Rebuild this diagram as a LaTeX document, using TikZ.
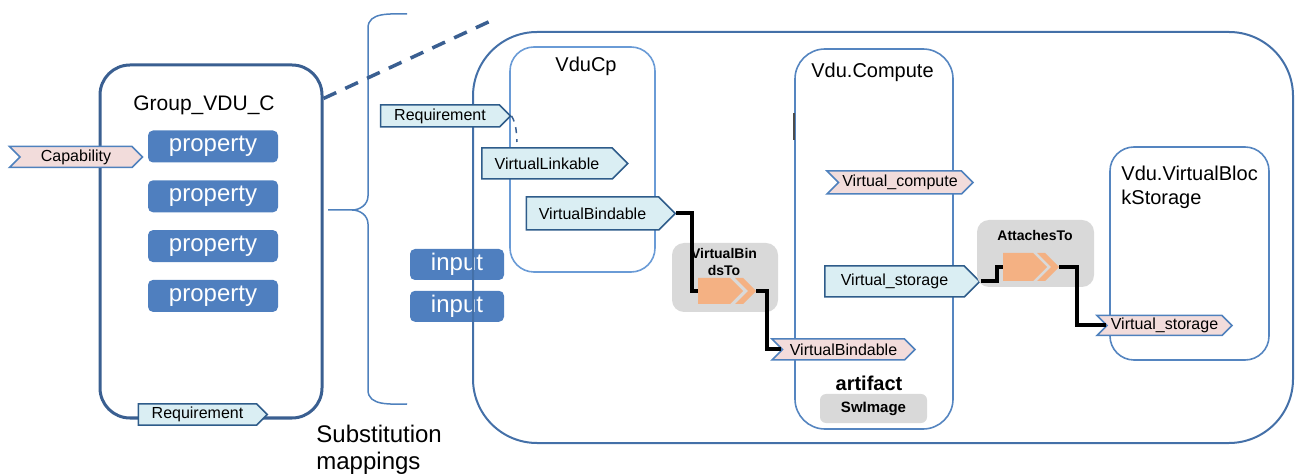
\documentclass[tikz,border=0pt]{standalone}
\usepackage{fontspec}
\setmainfont{Liberation Sans}
\usetikzlibrary{positioning,shapes.symbols}

\definecolor{grpblue}{HTML}{3A5F91}
\definecolor{outblue}{HTML}{4470A8}
\definecolor{cpblue}{HTML}{6A9BD6}
\definecolor{vdcblue}{HTML}{5585C0}
\definecolor{propblue}{HTML}{4F7FBF}
\definecolor{reqfill}{HTML}{DAEEF3}
\definecolor{reqline}{HTML}{2E5C8A}
\definecolor{capfill}{HTML}{F2DCDB}
\definecolor{capline}{HTML}{4F81BD}
\definecolor{relgray}{HTML}{D9D9D9}
\definecolor{relorange}{HTML}{F4B183}

\tikzset{
  reqtag/.style={signal, signal to=east, signal pointer angle=90, draw=reqline,
    line width=0.75pt, fill=reqfill, inner sep=0pt, font=\fontsize{8}{9}\selectfont},
  captag/.style={reqtag, signal from=west, draw=capline, fill=capfill},
  prop/.style={rounded corners=2.5pt, fill=propblue, text=white, minimum width=65pt,
    minimum height=16pt, inner sep=0pt, font=\fontsize{12}{12}\selectfont},
  tmpl/.style={draw=vdcblue, line width=0.8pt},
  title/.style={font=\fontsize{10}{12}\selectfont},
  relbox/.style={fill=relgray, rounded corners=6pt, inner sep=0pt},
  reltext/.style={font=\bfseries\fontsize{7}{8.5}\selectfont, align=center},
  wire/.style={line width=2pt, black},
}

\begin{document}
\begin{tikzpicture}[x=0.5pt, y=-0.5pt]
  \useasboundingbox (0,0) rectangle (1295,475);

  % Group on the left
  \node[draw=grpblue, line width=1.5pt, rounded corners=15pt, minimum width=111pt,
    minimum height=176.5pt] (grp) at (211,241.5) {};
  \node[font=\fontsize{10.5}{12}\selectfont] (grpname) at (204,105) {Group\_VDU\_C};
  \node[prop] (p1) at (213,146.5) {property};
  \node[prop, below=8.5pt of p1] (p2) {property};
  \node[prop, below=8.5pt of p2] (p3) {property};
  \node[prop, below=8.5pt of p3] (p4) {property};
  \node[captag, minimum width=66.5pt, minimum height=10.5pt] (cap) at (76,157) {Capability};
  \node[reqtag, minimum width=64.5pt, minimum height=10.5pt] (grpreq) at (197.5,414.5) {Requirement};

  %Brace and mapping line
  \draw[capline, line width=0.75pt] (407,14) to[out=180,in=90] (368,28) -- (368,196)
    to[out=-90,in=0] (352,210) -- (328,210);
  \draw[capline, line width=0.75pt] (352,210) to[out=0,in=90] (368,224) -- (368,390)
    to[out=-90,in=180] (407,404);
  \coordinate (dashend) at (497,18);
  \draw[grpblue, line width=1.75pt, dash pattern=on 7pt off 5pt]
    ([yshift=-17.5pt]grp.north east) -- (dashend);
  \node[anchor=north west, inner sep=0pt, align=left, font=\fontsize{12}{13.5}\selectfont]
    (subst) at (316,425) {Substitution\\mappings};

  % Inputs
  \node[prop, minimum width=47pt, minimum height=15.5pt] (in1) at (457,264.5) {input};
  \node[prop, minimum width=47pt, minimum height=15.5pt, below=5pt of in1] (in2) {input};

  % Template frame
  \node[draw=outblue, line width=1pt, rounded corners=32pt, minimum width=410pt,
    minimum height=205.5pt] (tpl) at (883,237.5) {};

  % Node templates
  \node[tmpl, draw=cpblue, rounded corners=12pt, minimum width=72.5pt,
    minimum height=112.5pt] (vducp) at (582.5,159.5) {};
  \node[title] (vducpname) at (586,66) {VduCp};
  \node[tmpl, rounded corners=15pt, minimum width=79pt, minimum height=190pt]
    (vdc) at (874,239) {};
  \node[title] (vdcname) at (872.5,72) {Vdu.Compute};
  \draw[black!70, line width=1pt] ([yshift=63pt]vdc.west) -- ([yshift=49.5pt]vdc.west);
  \node[tmpl, rounded corners=12pt, minimum width=79.5pt, minimum height=106.5pt]
    (vbs) at (1189.5,253.5) {};
  \node[title, anchor=north west, inner sep=0pt, align=left] (vbsname) at (1121,166)
    {Vdu.VirtualBloc\\kStorage};

  %Requirements and capabilities
  \node[reqtag, minimum width=65pt, minimum height=11pt] (reqs) at (440,116) {Requirement};
  \coordinate (cpend) at (517,142);
  \draw[grpblue, line width=0.75pt, dashed] (reqs.east) to[out=-60,in=95] (cpend);
  \node[reqtag, minimum width=73pt, minimum height=15.5pt] (vlink) at (547,163.5) {VirtualLinkable};
  \node[reqtag, minimum width=74.5pt, minimum height=16.5pt] (vbind) at (592.5,213.5) {VirtualBindable};
  \node[captag, minimum width=73pt, minimum height=11.5pt] (vcomp) at (900,182.5) {Virtual\_compute};
  \node[reqtag, minimum width=77.5pt, minimum height=15.5pt] (vstor) at (894.5,281.5) {Virtual\_storage};
  \node[captag, minimum width=71.5pt, minimum height=10.5pt] (vbind2) at (843.5,349.5) {VirtualBindable};
  \node[captag, minimum width=67.5pt, minimum height=10pt] (vstor2) at (1164.5,325.5) {Virtual\_storage};

  % Artifact
  \node[font=\bfseries\fontsize{10}{12}\selectfont] (art) at (869,383) {artifact};
  \node[relbox, rounded corners=3pt, minimum width=53.5pt, minimum height=14.5pt,
    font=\bfseries\fontsize{7.5}{9}\selectfont] (swimg) at (873.5,408.5) {SwImage};

  %Relationships
  \node[relbox, minimum width=53pt, minimum height=34.5pt] (binds) at (725,277.5) {};
  \node[reltext] (bindsname) at (724,261.5) {VirtualBin\\dsTo};
  \coordinate (bindarrow) at (698,291);
  \coordinate (bindchev) at (756,291);
  \fill[relorange] (bindarrow) ++(0,-13) -- ++(32,0) -- ++(13,13) -- ++(-13,13)
    -- ++(-32,0) -- cycle;
  \fill[relorange] (bindchev) -- ++(-13,-13) -- ++(-8,0) -- ++(13,13) -- ++(-13,13)
    -- ++(8,0) -- cycle;
  \node[relbox, minimum width=58.5pt, minimum height=33.5pt] (att) at (1035.5,253.5) {};
  \node[reltext] (attname) at (1035,235) {AttachesTo};
  \coordinate (attarrow) at (1003,267);
  \coordinate (attchev) at (1059,267);
  \fill[relorange] (attarrow) ++(0,-14) -- ++(30,0) -- ++(14,14) -- ++(-14,14)
    -- ++(-30,0) -- cycle;
  \fill[relorange] (attchev) -- ++(-14,-14) -- ++(-8,0) -- ++(14,14) -- ++(-14,14)
    -- ++(8,0) -- cycle;

  \draw[wire] (vbind.east) -- ++(16,0) |- (bindarrow);
  \draw[wire] (bindchev) -- ++(11,0) |- (vbind2.west);
  \draw[wire] (vstor.east) -- ++(16,0) |- (attarrow);
  \draw[wire] (attchev) -- ++(18,0) |- (vstor2.west);
\end{tikzpicture}
\end{document}
